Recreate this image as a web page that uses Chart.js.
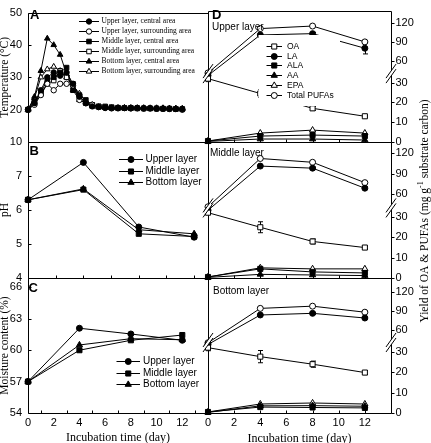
<!DOCTYPE html>
<html><head><meta charset="utf-8">
<script src="https://cdn.jsdelivr.net/npm/chart.js@4.4.1/dist/chart.umd.min.js"></script>
<style>
html,body{margin:0;padding:0;background:#fff;}
body{width:431px;height:443px;position:relative;overflow:hidden;}
canvas{position:absolute;left:0;top:0;}
</style></head><body>
<canvas id="cA" width="431" height="443"></canvas>
<canvas id="cB" width="431" height="443"></canvas>
<canvas id="cC" width="431" height="443"></canvas>
<canvas id="cD1" width="431" height="443"></canvas>
<canvas id="cD2" width="431" height="443"></canvas>
<canvas id="cD3" width="431" height="443"></canvas>
<script>
// ---------------- DATA ----------------
const tempDays = [0,0.5,1,1.5,2,2.5,3,3.5,4,4.5,5,5.5,6,6.5,7,7.5,8,8.5,9,9.5,10,10.5,11,11.5,12];
const tempUpperCentral  = [20,22,26,30,31.5,30.5,31.5,28,24,22,21,20.8,20.6,20.5,20.5,20.5,20.4,20.5,20.4,20.4,20.3,20.3,20.3,20.2,20.1];
const tempUpperSurround = [20,21.5,24.5,28,26,28,28,27.5,23,22,21.5,20.8,20.5,20.4,20.4,20.5,20.4,20.4,20.3,20.4,20.3,20.3,20.2,20.2,20.0];
const tempMiddleCentral = [20,22.5,25.5,29,30,31.5,33,26,24.5,23,21.5,21,20.8,20.6,20.5,20.5,20.5,20.5,20.4,20.4,20.4,20.3,20.3,20.2,20.2];
const tempMiddleSurround= [20,22,25,28,29,32,30,28,24,22,21.5,21,21,20.8,20.6,20.5,20.5,20.4,20.4,20.4,20.3,20.3,20.3,20.2,20.1];
const tempBottomCentral = [20,24,32,42,40,37,31,26,23,22,21,20.8,20.6,20.5,20.5,20.6,20.5,20.5,20.5,20.4,20.5,20.4,20.4,20.3,20.3];
const tempBottomSurround= [20,23.5,30,32.5,33.3,32,30,27.5,25,22.5,21.5,20.8,20.6,20.5,20.6,20.5,20.6,20.5,20.5,20.5,20.4,20.5,20.4,20.4,20.3];

const sampleDays = [0,4,8,12];
const phUpper  = [6.3,7.4,5.5,5.2];
const phMiddle = [6.3,6.6,5.3,5.22];
const phBottom = [6.3,6.62,5.42,5.3];

const moistUpper  = [57,62.1,61.55,60.95];
const moistMiddle = [57,60.0,60.95,61.45];
const moistBottom = [57,60.5,61.1,61.0];

const oaUpper = [32,24.5,17,13],      oaUpperErr = [1.5,2,1,0.5];
const laUpper = [37,101,103,80],      laUpperErr = [0,2,2,9];
const alaUpper = [0.5,3,3.5,3];
const aaUpper = [0.3,1.5,1.5,1];
const epaUpper = [0.5,4.5,6,4.5];
const pufaUpper = [41,111,115,90];

const oaMiddle = [33.5,25,18,15],     oaMiddleErr = [1,2.7,1.2,0.6];
const laMiddle = [37,101,98,69],      laMiddleErr = [0,1.5,1.5,2];
const alaMiddle = [0.5,4.5,3,2.5];
const aaMiddle = [0.3,1.8,1.5,1.2];
const epaMiddle = [0.5,5,4.5,4.5];
const pufaMiddle = [42,112,106.5,77];

const oaBottom = [32,27.6,23.9,19.8], oaBottomErr = [1.5,3,1.5,1];
const laBottom = [37,83.6,86.2,78.8], laBottomErr = [0,1.5,1.5,1.5];
const alaBottom = [0.5,2.9,2.7,2.5];
const aaBottom = [0.3,3.5,3.6,3.3];
const epaBottom = [0.5,4.4,4.9,4.4];
const pufaBottom = [39.7,94,97.5,88];

// tick values
const tempTicks = [10,20,30,40,50];
const phTicks = [4,5,6,7];
const moistTicks = [54,57,60,63,66];
const yieldTicks = [0,10,20,30,60,90,120];
const dayTicks = [0,2,4,6,8,10,12];
const oddDays = [1,3,5,7,9,11,13];
const innerDays = [2,4,6,8,10,12];

// ---------------- SETUP ----------------
const SANS = "'Liberation Sans', Arial, Helvetica, sans-serif";
const SERIF = "'Liberation Serif', 'Times New Roman', Times, serif";
Chart.defaults.font.family = SANS;
Chart.defaults.font.size = 11;
Chart.defaults.color = '#000';
const W = 431, H = 443;

// Broken (folded) linear axis
class BrokenScale extends Chart.LinearScale {
  fold(v) { const b = this.options.brk; return v <= b.at ? v : b.at + (v - b.at) * b.factor; }
  getPixelForValue(v) {
    if (v === null || v === undefined || isNaN(v)) return NaN;
    const a = this.fold(this.min), z = this.fold(this.max);
    return this.getPixelForDecimal((this.fold(v) - a) / (z - a));
  }
  getValueForPixel(p) {
    const a = this.fold(this.min), z = this.fold(this.max);
    const f = a + this.getDecimalForPixel(p) * (z - a);
    const b = this.options.brk;
    return f <= b.at ? f : b.at + (f - b.at) / b.factor;
  }
}
BrokenScale.id = 'broken';
BrokenScale.defaults = Chart.LinearScale.defaults;
Chart.register(BrokenScale);

const RAD = {circle: 3, rect: 3.6, triangle: 3.6};
function ds(label, xs, ys, style, filled, scale) {
  const r = RAD[style] * (scale || 1);
  return { label, data: xs.map((x, i) => ({x, y: ys[i]})), borderColor: '#000', borderWidth: 1,
    pointStyle: style, pointRadius: r, pointHoverRadius: r, pointBackgroundColor: filled ? '#000' : '#fff',
    pointBorderColor: '#000', pointBorderWidth: 1, tension: 0, fill: false, clip: false };
}

function decoPlugin(cfg) {
  return {
    id: 'deco',
    beforeDatasetsDraw(chart) {
      const {ctx, chartArea: a} = chart; const xs = chart.scales.x, ys = chart.scales.y;
      const l = Math.round(a.left) + 0.5, r = Math.round(a.right) + 0.5, t = Math.round(a.top) + 0.5, b = Math.round(a.bottom) + 0.5;
      ctx.save(); ctx.strokeStyle = '#000'; ctx.lineWidth = 1;
      ctx.beginPath(); ctx.rect(l, t, r - l, b - t); ctx.stroke();
      ctx.beginPath();
      (cfg.xTicks || []).forEach(v => { const x = Math.round(xs.getPixelForValue(v)) + 0.5; ctx.moveTo(x, b); ctx.lineTo(x, b - 3); });
      (cfg.yTicks || []).forEach(v => { const y = Math.round(ys.getPixelForValue(v)) + 0.5;
        if (cfg.yTickSide === 'left') { ctx.moveTo(l, y); ctx.lineTo(l + 3, y); } else { ctx.moveTo(r, y); ctx.lineTo(r + 3, y); } });
      ctx.stroke();
      (cfg.errors || []).forEach(e => {
        const meta = chart.getDatasetMeta(e.ds); const d = chart.data.datasets[e.ds].data;
        e.err.forEach((er, i) => { if (!er) return;
          const x = Math.round(meta.data[i].x) + 0.5;
          const y1 = ys.getPixelForValue(d[i].y + er), y2 = ys.getPixelForValue(d[i].y - er);
          ctx.beginPath(); ctx.moveTo(x, y1); ctx.lineTo(x, y2);
          ctx.moveTo(x - 2.5, y1); ctx.lineTo(x + 2.5, y1); ctx.moveTo(x - 2.5, y2); ctx.lineTo(x + 2.5, y2); ctx.stroke(); });
      });
      ctx.restore();
    },
    afterDatasetsDraw(chart) {
      const {ctx, chartArea: a} = chart; const ys = chart.scales.y;
      ctx.save();
      (cfg.breaks || []).forEach(v => {
        const cy = ys.getPixelForValue(v);
        [a.left, a.right].forEach(cx => {
          ctx.fillStyle = '#fff'; ctx.beginPath();
          ctx.moveTo(cx - 3, cy + 4.2); ctx.lineTo(cx + 3, cy - 4.2); ctx.lineTo(cx + 3, cy - 9.2); ctx.lineTo(cx - 3, cy - 0.8); ctx.closePath(); ctx.fill();
          ctx.strokeStyle = '#000'; ctx.lineWidth = 1; ctx.beginPath();
          ctx.moveTo(cx - 5, cy + 7); ctx.lineTo(cx + 5, cy - 7);
          ctx.moveTo(cx - 5, cy + 2); ctx.lineTo(cx + 5, cy - 12); ctx.stroke();
        });
      });
      if (cfg.legend) { const g = cfg.legend;
        if (g.box) { ctx.fillStyle = '#fff'; ctx.fillRect(g.box[0], g.box[1], g.box[2] - g.box[0], g.box[3] - g.box[1]); }
        chart.data.datasets.forEach((d, i) => {
          const y = Math.round(g.y0 + i * g.dy) + 0.5;
          ctx.strokeStyle = '#000'; ctx.lineWidth = 1; ctx.beginPath(); ctx.moveTo(g.x1, y); ctx.lineTo(g.x2, y); ctx.stroke();
          ctx.fillStyle = d.pointBackgroundColor; ctx.strokeStyle = '#000';
          Chart.helpers.drawPoint(ctx, {pointStyle: d.pointStyle, radius: d.pointRadius, rotation: 0, borderWidth: 1}, (g.x1 + g.x2) / 2, y);
          ctx.fillStyle = '#000'; ctx.font = g.font; ctx.textAlign = 'left'; ctx.textBaseline = 'middle';
          ctx.fillText(d.label, g.tx, y);
        });
      }
      (cfg.texts || []).forEach(tx => { ctx.font = tx.font; ctx.fillStyle = '#000'; ctx.textAlign = 'left'; ctx.textBaseline = 'alphabetic'; ctx.fillText(tx.t, tx.x, tx.y); });
      if (cfg.rightTitle) { const rt = cfg.rightTitle;
        ctx.translate(rt.x, rt.y); ctx.rotate(-Math.PI / 2); ctx.textBaseline = 'middle'; ctx.textAlign = 'left'; ctx.fillStyle = '#000';
        let total = 0; rt.parts.forEach(p => { ctx.font = p.font; p.w = ctx.measureText(p.t).width; total += p.w; });
        let x = -total / 2; rt.parts.forEach(p => { ctx.font = p.font; ctx.fillText(p.t, x, p.dy); x += p.w; });
      }
      ctx.restore();
    }
  };
}

function makeChart(id, o) {
  const x = { type: 'linear', position: 'bottom', min: o.xMin, max: o.xMax, bounds: 'data',
    grid: {display: false, drawTicks: false, tickLength: 0}, border: {display: false},
    ticks: {display: !!o.xLabels, padding: 3.4, autoSkip: false, maxRotation: 0, minRotation: 0, font: {size: 11}},
    afterBuildTicks: s => { s.ticks = (o.xLabels || dayTicks).map(v => ({value: v})); },
    afterFit: s => { s.height = o.xHeight; },
    title: o.xTitle ? {display: true, text: o.xTitle, color: '#000', font: {family: SERIF, size: 12}, padding: {top: 0, bottom: o.xTitlePad}} : {display: false}
  };
  const y = { type: o.yType || 'linear', position: o.yPos, min: o.yMin, max: o.yMax, bounds: 'data',
    grid: {display: false, drawTicks: false, tickLength: 0}, border: {display: false},
    ticks: {display: true, padding: o.yPad, autoSkip: false, font: {size: 11}},
    afterBuildTicks: s => { s.ticks = o.yTicks.map(v => ({value: v})); },
    afterFit: s => { s.width = o.yWidth; },
    title: o.yTitle ? {display: true, text: o.yTitle, color: '#000', font: {family: SERIF, size: 11.5}, padding: {top: -1.5, bottom: 0}} : {display: false}
  };
  if (o.brk) y.brk = o.brk;
  const padding = {
    left: o.yPos === 'left' ? o.left - o.yWidth : o.left,
    right: o.yPos === 'right' ? W - o.right - o.yWidth : W - o.right,
    top: o.top,
    bottom: H - o.bottom - o.xHeight
  };
  return new Chart(document.getElementById(id), {
    type: 'line',
    data: {datasets: o.datasets},
    options: { responsive: false, animation: false, devicePixelRatio: 1, events: [],
      layout: {padding}, scales: {x, y},
      plugins: {legend: {display: false}, tooltip: {enabled: false}} },
    plugins: [decoPlugin(o.deco)]
  });
}

const L = 28, M = 208, R = 391, T = 8, Y1 = 142, Y2 = 278, B = 413;
const boldFont = `bold 13px ${SANS}`;

// ---- Panel A ----
makeChart('cA', { left: L, right: M, top: T, bottom: Y1, xMin: 0, xMax: 14, xHeight: 0,
  yMin: 10, yMax: 50, yTicks: tempTicks, yPos: 'left', yWidth: L, yPad: 6, yTitle: 'Temperature (°C)',
  datasets: [
    ds('Upper layer, central area', tempDays, tempUpperCentral, 'circle', true, 0.9),
    ds('Upper layer, surrounding area', tempDays, tempUpperSurround, 'circle', false, 0.9),
    ds('Middle layer, central area', tempDays, tempMiddleCentral, 'rect', true, 0.9),
    ds('Middle layer, surrounding area', tempDays, tempMiddleSurround, 'rect', false, 0.9),
    ds('Bottom layer, central area', tempDays, tempBottomCentral, 'triangle', true, 0.9),
    ds('Bottom layer, surrounding area', tempDays, tempBottomSurround, 'triangle', false, 0.9)
  ],
  deco: { yTicks: tempTicks, yTickSide: 'left',
    legend: {font: `7.5px ${SERIF}`, x1: 79, x2: 99, tx: 101.5, y0: 20.7, dy: 10.1},
    texts: [{t: 'A', font: boldFont, x: 30, y: 19.3}] }
});

// ---- Panel B ----
makeChart('cB', { left: L, right: M, top: Y1, bottom: Y2, xMin: 0, xMax: 13, xHeight: 0,
  yMin: 4, yMax: 8, yTicks: phTicks, yPos: 'left', yWidth: L, yPad: 6, yTitle: 'pH',
  datasets: [
    ds('Upper layer', sampleDays, phUpper, 'circle', true),
    ds('Middle layer', sampleDays, phMiddle, 'rect', true),
    ds('Bottom layer', sampleDays, phBottom, 'triangle', true)
  ],
  deco: { xTicks: innerDays, yTicks: phTicks, yTickSide: 'left',
    legend: {font: `10px ${SANS}`, x1: 119, x2: 143, tx: 145.5, y0: 159, dy: 11.7},
    texts: [{t: 'B', font: boldFont, x: 29.5, y: 155}] }
});

// ---- Panel C ----
makeChart('cC', { left: L, right: M, top: Y2, bottom: B, xMin: 0, xMax: 14, xHeight: H - B, xLabels: dayTicks,
  xTitle: 'Incubation time (day)', xTitlePad: -1.7,
  yMin: 54, yMax: 66.9, yTicks: moistTicks, yPos: 'left', yWidth: L, yPad: 6, yTitle: 'Moisture content (%)',
  datasets: [
    ds('Upper layer', sampleDays, moistUpper, 'circle', true),
    ds('Middle layer', sampleDays, moistMiddle, 'rect', true),
    ds('Bottom layer', sampleDays, moistBottom, 'triangle', true)
  ],
  deco: { xTicks: oddDays, yTicks: moistTicks, yTickSide: 'left',
    legend: {font: `10px ${SANS}`, x1: 116.5, x2: 140, tx: 143, y0: 360.7, dy: 11.8},
    texts: [{t: 'C', font: boldFont, x: 28.5, y: 291.7}] }
});

function faSets(oa, la, ala, aa, epa, pufa) {
  return [
    ds('OA', sampleDays, oa, 'rect', false),
    ds('LA', sampleDays, la, 'circle', true),
    ds('ALA', sampleDays, ala, 'rect', true),
    ds('AA', sampleDays, aa, 'triangle', true),
    ds('EPA', sampleDays, epa, 'triangle', false),
    ds('Total PUFAs', sampleDays, pufa, 'circle', false)
  ];
}

// ---- Panel D, upper ----
makeChart('cD1', { left: M, right: R, top: T, bottom: Y1, xMin: 0, xMax: 14, xHeight: 0,
  yType: 'broken', brk: {at: 32, factor: 0.32}, yMin: 0, yMax: 138.6, yTicks: yieldTicks, yPos: 'right', yWidth: W - R, yPad: 4.5,
  datasets: faSets(oaUpper, laUpper, alaUpper, aaUpper, epaUpper, pufaUpper),
  deco: { xTicks: innerDays, yTicks: yieldTicks, yTickSide: 'right', breaks: [36],
    errors: [{ds: 0, err: oaUpperErr}, {ds: 1, err: laUpperErr}],
    legend: {box: [258.5, 35, 340, 106], font: `8.5px ${SANS}`, x1: 266.5, x2: 282, tx: 287, y0: 45.7, dy: 9.86},
    texts: [{t: 'D', font: boldFont, x: 212, y: 19}, {t: 'Upper layer', font: `10px ${SANS}`, x: 212, y: 29.5}] }
});

// ---- Panel D, middle ----
makeChart('cD2', { left: M, right: R, top: Y1, bottom: Y2, xMin: 0, xMax: 14, xHeight: 0,
  yType: 'broken', brk: {at: 31.5, factor: 0.34}, yMin: 0, yMax: 135.9, yTicks: yieldTicks, yPos: 'right', yWidth: W - R, yPad: 4.5,
  datasets: faSets(oaMiddle, laMiddle, alaMiddle, aaMiddle, epaMiddle, pufaMiddle),
  deco: { xTicks: innerDays, yTicks: yieldTicks, yTickSide: 'right', breaks: [36.8],
    errors: [{ds: 0, err: oaMiddleErr}, {ds: 1, err: laMiddleErr}],
    texts: [{t: 'Middle layer', font: `10px ${SANS}`, x: 210, y: 155.5}],
    rightTitle: {x: 425, y: 211, parts: [
      {t: 'Yield of OA & PUFAs (mg g', font: `11.5px ${SERIF}`, dy: 0},
      {t: '-1', font: `8px ${SERIF}`, dy: -4},
      {t: ' substrate carbon)', font: `11.5px ${SERIF}`, dy: 0}]} }
});

// ---- Panel D, bottom ----
makeChart('cD3', { left: M, right: R, top: Y2, bottom: B, xMin: 0, xMax: 14, xHeight: H - B, xLabels: dayTicks,
  xTitle: 'Incubation time (day)', xTitlePad: -3.2,
  yType: 'broken', brk: {at: 32, factor: 0.31}, yMin: 0, yMax: 142, yTicks: yieldTicks, yPos: 'right', yWidth: W - R, yPad: 4.5,
  datasets: faSets(oaBottom, laBottom, alaBottom, aaBottom, epaBottom, pufaBottom),
  deco: { xTicks: innerDays, yTicks: yieldTicks, yTickSide: 'right', breaks: [36.2],
    errors: [{ds: 0, err: oaBottomErr}, {ds: 1, err: laBottomErr}],
    texts: [{t: 'Bottom layer', font: `10px ${SANS}`, x: 213, y: 293.5}] }
});
</script>
</body></html>
